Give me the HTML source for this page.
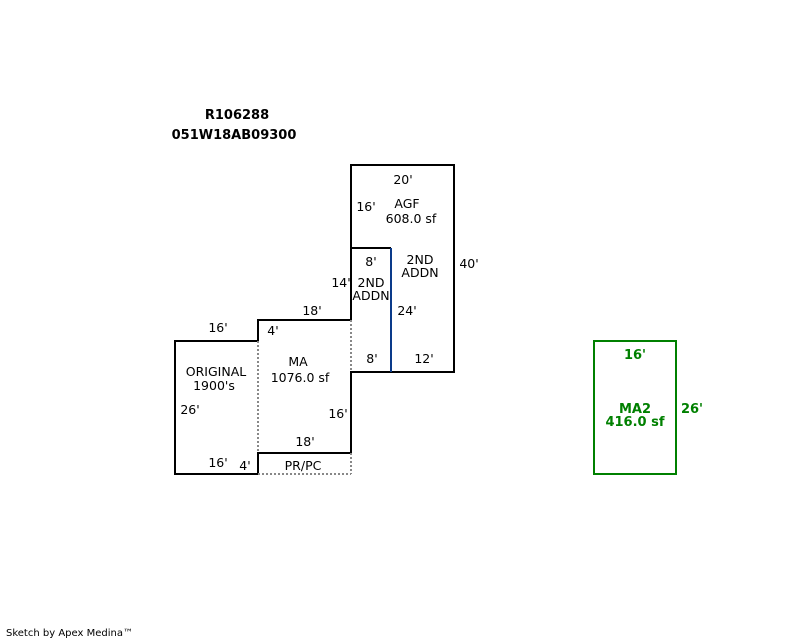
<!DOCTYPE html>
<html><head><meta charset="utf-8"><style>
html,body{margin:0;padding:0;background:#fff;}
svg{display:block;}
text{font-family:"DejaVu Sans","Liberation Sans",sans-serif;font-size:12.5px;fill:#000;}
.b{font-weight:bold;font-size:13px;}
.g{fill:#008000;font-weight:bold;font-size:13px;}
</style></head><body>
<svg width="800" height="640" viewBox="0 0 800 640" xmlns="http://www.w3.org/2000/svg">
<g fill="none" stroke="#000" stroke-width="2">
<polyline points="258,341 175,341 175,474 258,474 258,453 351,453 351,372 454,372 454,165 351,165 351,320 258,320 258,341"/>
<polyline points="351,248 391,248"/>
</g>
<line x1="391" y1="248" x2="391" y2="372" stroke="#0a3a8a" stroke-width="2"/>
<g fill="none" stroke="#888" stroke-width="2" stroke-dasharray="2,2">
<line x1="258" y1="341" x2="258" y2="453"/>
<line x1="351" y1="320" x2="351" y2="372"/>
<line x1="258" y1="474" x2="351" y2="474"/>
<line x1="351" y1="453" x2="351" y2="474"/>
</g>
<rect x="594" y="341" width="82" height="133" fill="none" stroke="#008000" stroke-width="2"/>
<text class="b" x="237" y="119" text-anchor="middle">R106288</text>
<text class="b" x="234" y="139" text-anchor="middle">051W18AB09300</text>
<text x="403" y="184" text-anchor="middle">20'</text>
<text x="366" y="211" text-anchor="middle">16'</text>
<text x="407" y="208" text-anchor="middle">AGF</text>
<text x="411" y="223" text-anchor="middle">608.0 sf</text>
<text x="371" y="266" text-anchor="middle">8'</text>
<text x="420" y="264" text-anchor="middle">2ND</text>
<text x="420" y="277" text-anchor="middle">ADDN</text>
<text x="469" y="268" text-anchor="middle">40'</text>
<text x="341" y="287" text-anchor="middle">14'</text>
<text x="371" y="287" text-anchor="middle">2ND</text>
<text x="371" y="300" text-anchor="middle">ADDN</text>
<text x="312" y="315" text-anchor="middle">18'</text>
<text x="407" y="315" text-anchor="middle">24'</text>
<text x="218" y="332" text-anchor="middle">16'</text>
<text x="273" y="335" text-anchor="middle">4'</text>
<text x="372" y="363" text-anchor="middle">8'</text>
<text x="424" y="363" text-anchor="middle">12'</text>
<text x="298" y="366" text-anchor="middle">MA</text>
<text x="300" y="382" text-anchor="middle">1076.0 sf</text>
<text x="216" y="376" text-anchor="middle">ORIGINAL</text>
<text x="214" y="390" text-anchor="middle">1900's</text>
<text x="190" y="414" text-anchor="middle">26'</text>
<text x="338" y="418" text-anchor="middle">16'</text>
<text x="305" y="446" text-anchor="middle">18'</text>
<text x="218" y="467" text-anchor="middle">16'</text>
<text x="245" y="470" text-anchor="middle">4'</text>
<text x="303" y="470" text-anchor="middle">PR/PC</text>
<text class="g" x="635" y="359" text-anchor="middle">16'</text>
<text class="g" x="635" y="413" text-anchor="middle">MA2</text>
<text class="g" x="635" y="426" text-anchor="middle">416.0 sf</text>
<text class="g" x="692" y="413" text-anchor="middle">26'</text>
<text x="6" y="636" style="font-size:10px">Sketch by Apex Medina™</text>
</svg>
</body></html>
